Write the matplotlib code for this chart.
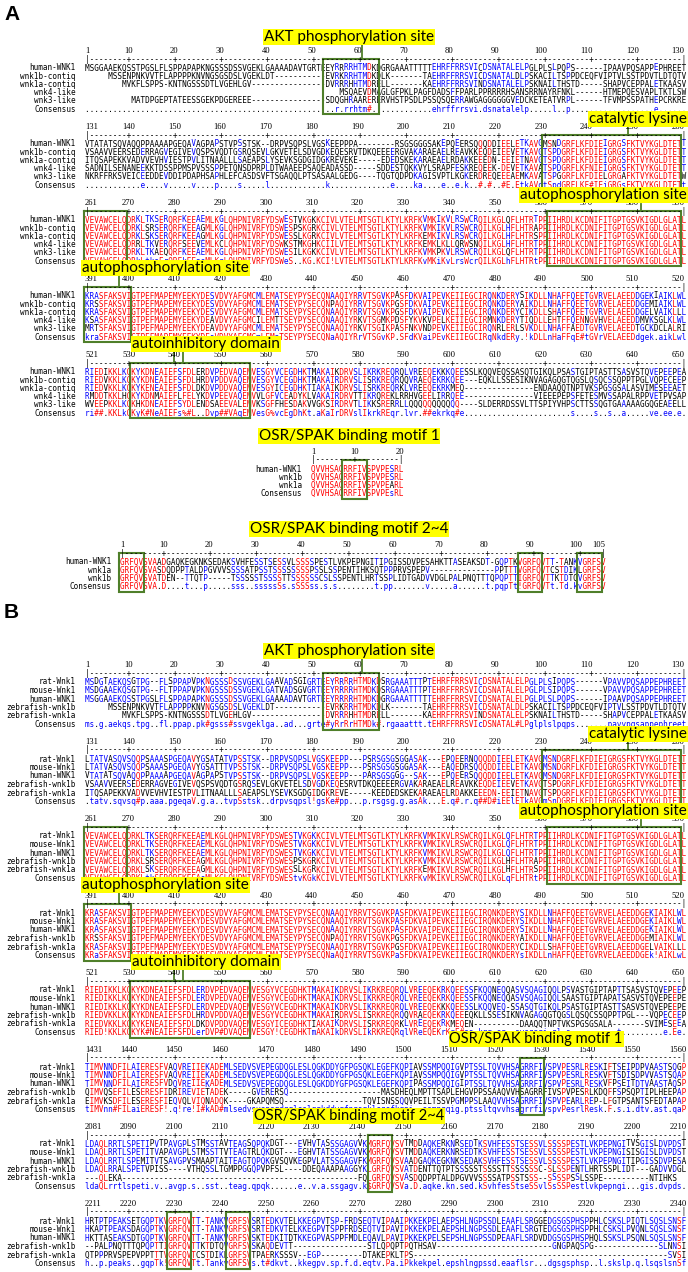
import matplotlib
matplotlib.use("agg")
import matplotlib.pyplot as plt
from collections import Counter

# ---------------- data: panel A (WNK family, human vs zebrafish contigs) ----------------
A_NAMES = ["human-WNK1", "wnk1b-contiq", "wnk1a-contiq", "wnk4-like", "wnk3-like"]
A_STARTS = [1, 131, 261, 391, 521]

A1 = [
    "MSGGAAEKQSSTPGSLFLSPPAPAPKNGSSSDSSVGEKLGAAAADAVTGRTEEYRRRRHTMDKDGRGAAATTTTTEHRFFRRSVICDSNATALELPGLPLSLPQPS------IPAAVPQSAPPEPHREET",
    "     MSSENPNKVVTFLAPPPPKNVNGSGSDSLVGEKLDT-----------EVRKRRHTMDKDLK-------TAEHRFFRRSVICDSNATALDLPSKACILTSPPDCEQFVIPTVLSSTPDVTLDTQTV",
    "        MVKFLSPPS-KNTNGSSSDTLVGEHLGV----------------DVRRRHHTMDRELL-------KAEHRFFRRSVINDSNATALELPSKNAILTHSTD-----SHAPVCEPPALETKAASV",
    "                                                       MSQAEVDMAGLGFPKLPAGFDADSFFPARLPPRRRRHSANSRRNAYRFNKL------HTMEPQESVAPLTKTLSW",
    "          MATDPGEPTATEESSGEKPDGEREEE----------------SDQGHRAARERERVHSTPSDLPSSQSQERRAWGAGGGGGGVEDCKETEATVRPL------TFVMPSSPATHEPCRKRE",
]
A2 = [
    "VTATATSQVAQQPPAAAAPGEQAVAGPAPSTVPSSTSK--DRPVSQPSLVGSKEEPPPA--------RSGSGGGSAKEPQEERSQQQDDIEELETKAVGMSNDGRFLKFDIEIGRGSFKTVYKGLDTETT",
    "VSAAVVEERSEDERRAGVEGIVEVQSPSVQDTGSRQSEVLGKVETELSDVGDKEQESRVTDKQEEEERGVAKARAEAELREAVKKEQDEIEEVETKAVGTSPDGRFLKFDIEIGRGSFKTVYKGLDTETT",
    "ITQSAPEKKVADVVEVHVIESTPVLITNAALLLSAEAPSLYSEVKSGDGIDGKREVEKE-----EDEDSKEKARAEAELRDAKKEEEDN-EEIETNAVGTSPDGRFLKFDIEIGRGSFKTVYKGLDTETT",
    "SADNILSENANEEKKTDSSPPMSPVSSSPPETQNSDPRPLDTWAAEEPSAQEADASSD-----SDDESTQKKVYLSRAPFESKREQEEK-DEVETKAVATSPDGRFLKFNIEIGRGSFKTVYKGLDTETT",
    "NKRFFRKSVEICEEDDEVDDIPDAPHSAPHLEFCASDSVFTSGAQQLPTSASAALGEDG----TQGTQDPDKAGISVPTLKGKERDREQEEEAEMKAVATSPGGRFLKFDIELGRGAFKTVYKGLDTETW",
]
HUMAN3 = "VEVAWCELQDRKLTKSERQRFKEEAEMLKGLQHPNIVRFYDSWESTVKGKKCIVLVTELMTSGTLKTYLKRFKVMKIKVLRSWCRQILKGLQFLHTRTPPIIHRDLKCDNIFITGPTGSVKIGDLGLATL"
WNK1B3 = "VEVAWCELQDRKLSRSERQRFKEEAGMLKGLQHPNIVRFYDSWESPSKGRKCIVLVTELMTSGTLKTYLKRFKVMKIKVLRSWCRQILKGLHFLHTRAPPIIHRDLKCDNIFITGPTGSVKIGDLGLATL"
WNK1A3 = "VEVAWCELQDRKLSKSERQRFKEEAGMLKGLQHPNIVRFYDSWESSLKGRKCIVLVTELMTSGTLKTYLKRFKEMKIKVLRSWCRQILKGLHFLHTRSPPIIHRDLKCDNIFITGPTGSVKIGDLGLATL"
A3 = [
    HUMAN3, WNK1B3, WNK1A3,
    "VEVAWCELQDRRLTKVERQRFSEEVEMLKCLQHPNIVRFYDSWKSTMKGHKCIILVTELMTSGTLKTYLKRFKEMKLKLLQRWSNQILKGLHFLHTRTPPIIHRDLKCDNIFITGPTGSVKIGDLGLATL",
    "VEVAWCELQDRKLTKAEQQRFKEEAEMLKGLQHPNIVRFYDSWESILKGKKCIVLVTELMTSGTLKTYLKRFKVMKPKVLRSWCRQILKGLQFLHTRTPPIIHRDLKCDNIFITGPTGSVKIGDLGLATL",
]
HUMAN4 = "KRASFAKSVIGTPEFMAPEMYEEKYDESVDVYAFGMCMLEMATSEYPYSECQNAAQIYRRVTSGVKPASFDKVAIPEVKEIIEGCIRQNKDERYSIKDLLNHAFFQEETGVRVELAEEDDGEKIAIKLWL"
WNK1B4 = "KRSSFAKSVIGTPEFMAPEMYEEKYDESVDVYAFGMCMLEMATSEYPYSECQNPAQIYRRVTSGVKPGSFDKVAIPEVKEIIEGCIRQNKDERYAIKDLLNHAFFQEETGVRVELAEEDDGEMIAIKLWL"
WNK1A4 = "KRASFAKSVIGTPEFMAPEMYEEKYDESVDVYAFGMCMLEMATSEYPYSECQNAAQIYRRVTSGVKPGSFDKVAIPEVKEIIEGCIRQNKDERYCIKDLLSHAFFQEETGVRVELAEEDDGELVAIKLLL"
A4 = [
    HUMAN4, WNK1B4, WNK1A4,
    "KSASFAKSVIGTPEFMAPEMYEEKYDEAVDVYAFGMCILEMTTSEYPYSECQNAAQIYRKVTSGMKPDSFYKVKVPELKEIIEGCIRMNKDERYTIQDLLEHTFFQENNGVHVELAEEDDMVKSGLKLWL",
    "MRTSFAKSVIGTPEFMAPEMYEEKYDEAVDVYAFGMCMLEMATSEYPYSECQNAAQIYRKVTSGIKPASFNKVNDPEVKEIIEGCIRQNRLERLSVKDLLNHAFFAEDTGVRVELAEEDTGCKDCLALRI",
]
A5 = [
    "RIEDIKKLKGKYKDNEAIEFSFDLERDVPEDVAQEMVESGYVCEGDHKTMAKAIKDRVSLIKRKREQRQLVREEQEKKKQEESSLKQQVEQSSASQTGIKQLPSASTGIPTASTTSASVSTQVEPEEPEA",
    "RIEDVKKLKGKYKDNEAIEFSFDLHRDVPDDVAQEMVESGYVCEGDHKTMAKAIRDRVSLISRKREQRQQVRAEQEKRKQEE---EQKLLSSESIKNVAGAGQGTQGSLQSQCSSQPPTPGLVQPECEEP",
    "RIEDVKKLKGKYKENEAIEFSFDLDKDVPDDVAQEMVESGYICEGDHKTIAKAIKDRVSLISRKREQRKLVREEQEKRKMEQ---------------ENDAAQQTNPTVKSPGSGSALASVIMESEEAET",
    "RMDDTKKLHGKYKDNMAIEFLFELYKDVPEEVAQEMVVLGFVCEADYKLVAKAIRDRVTTIKRQREKLRRHVGEELIRRQEE---------------VIEEEPEPSFETESMVSSAPALRPPVETPVSAP",
    "WVEEPKKLKGKHKDNEAIEFSYDLENDSAEEVALEMVKSGFFHESDAKVVGKSIRDRVTLIKKSRERRLLQQQQQQQQQQQ----SLDERRDSSVLTTSPIYVHPSCTTSSQGTGAAAAAGGQGEAEELL",
]
A_BLOCKS = [A1, A2, A3, A4, A5]
A_BOXES = [[(53, 64)], [(231, 260)], [(261, 269), (362, 390)], [(391, 400)], [(531, 556)]]

M1_NAMES = ["human-WNK1", "wnk1b", "wnk1a"]
M1 = ["QVVHSAGRRFIVSPVPESRL", "QVVHSAGRRFIVSPVPESRL", "QVVHSAGRRFIVSPVPEARL"]
M1_BOXES = [(8, 12)]

M2_NAMES = ["human-WNK1", "wnk1a", "wnk1b"]
M2 = [
    "GRFQVSVAADGAQKEGKNKSEDAKSVHFESSTSESSVLSSSSPESTLVKPEPNGITIPGISSDVPESAHKTTASEAKSDT-GQPTKVGRFQVTT-TANKVGRFSV",
    "GRFQVSVASDQDPPTALDPGVVVSSSSATPSSTSSSSSSSSPSSLSSPENTIHKSQTPPPRVSPEPV--------------PPTTTVGRFQVTCSTDIKLGRFSV",
    "GRFQVSVATDEN--TTQTP-----TSSSSSTSSSSTTSSSSSSCSLSSPENTLHRTSSPLIDTGADVVDGLPALPNQTTTQPQPTTIGRFQVTTKTDTQVGRFSV",
]
M2_BOXES = [(1, 5), (88, 92), (101, 105)]

# ---------------- data: panel B (rat / mouse / human / zebrafish) ----------------
B_NAMES = ["rat-Wnk1", "mouse-Wnk1", "human-WNK1", "zebrafish-wnk1b", "zebrafish-wnk1a"]
B_STARTS = [1, 131, 261, 391, 521, 1431, 2081, 2211]

B1 = [
    "MSDGTAEKQSGTPG--FLSPPAPVPKNGSSSDSSVGEKLGAAVADSGIGRTEEYRRRRHTMDKDSRGAAATTTPTEHRFFRRSVICDSNATALELPGLPLSIPQPS------VPAVVPQSAPPEPHREET",
    "MSDGAAEKQSGTPG--FLTPPAPVPKNGSSSDSSVGEKLGATVADSGVGRTEEYRRRRHTMDKDSRGAAATTTPTEHRFFRRSVICDSNATALELPGLPLSIPQPS------VPAVVPQSAPPEPHREET",
    A1[0], A1[1], A1[2],
]
B2 = [
    "LTATVASQVSQQPSAAASPGEQAVYGSATATVPSSTSK--DRPVSQPSLVGSKEEPP---PSRSGSGSGGASAK---EPQEERNQQQDDIEELETKAVGMSNDGRFLKFDIEIGRGSFKTVYKGLDTETT",
    "LTATVASQVSQQPSAAASPGEQAVYGSATTTVPSSTSK--DRPVSQPSLVGSKEEPP---PSRSGSGSGGASAK---EAQEDRSQQQDDIEELETKAVGMSNDGRFLKFDIEIGRGSFKTVYKGLDTETT",
    "VTATATSQVAQQPPAAAAPGEQAVAGPAPSTVPSSTSK--DRPVSQPSLVGSKEEPP---PARSGSGGG--SAK---EPQEERSQQQDDIEELETKAVGMSNDGRFLKFDIEIGRGSFKTVYKGLDTETT",
    A2[1],
    "ITQSAPEKKVADVVEVHVIESTPVLITNAALLLSAEAPSLYSEVKSGDGIDGKREVE-----KEEDEDSKEKARAEAELRDAKKEEEDN-EEIETNAVGTSPDGRFLKFDIEIGRGSFKTVYKGLDTETT",
]
B3 = [HUMAN3, HUMAN3, HUMAN3, WNK1B3, WNK1A3]
B4 = [HUMAN4, HUMAN4, HUMAN4, WNK1B4, WNK1A4]
B5 = [
    "RIEDIKKLKGKYKDNEAIEFSFDLERDVPEDVAQEMVESGYVCEGDHKTMAKAIKDRVSLIKRKREQRQLVREEQEKRKQEESSFKQQNEQQASVSQAGIQQLPSVASTGIPTAPTTSASVSTQVEPEEPE",
    "RIEDIKKLKGKYKDNEAIEFSFDLERDVPEDVAQEMVESGYVCEGDHKTMAKAIKDRVSLIKRKREQRQLVREEQEKRKQEESSFKQQNEQQASVSQAGIQQLSAASTGIPTAPATSASVSTQVEPEEPE",
    "RIEDIKKLKGKYKDNEAIEFSFDLERDVPEDVAQEMVESGYVCEGDHKTMAKAIKDRVSLIKRKREQRQLVREEQEKKKQEESSLKQQVEQ-SSASQTGIKQLPSASTGIPTASTTSASVSTQVEPEEPE",
    "RIEDVKKLKGKYKDNEAIEFSFDLHRDVPDDVAQEMVESGYVCEGDHKTMAKAIRDRVSLISRKREQRQQVRAEQEKRKQEEEQKLLSSESIKNVAGAGQGTQGSLQSQCSSQPPTPGL---VQPECEEPD",
    "RIEDVKKLKGKYKENEAIEFSFDLDKDVPDDVAQEMVESGYICEGDHKTIAKAIKDRVSLISRKREQRKLVREEQEKRKMEQEN----------DAAQQTNPTVKSPGSGSALA-------SVIMESEEAE",
]
B6 = [
    "TIMVNNDFILAIERESFVAQVREIIEKADEMLSEDVSVEPEGDQGLESLQGKDDYGFPGSQKLEGEFKQPIAVSSMPQQIGVPTSSLTQVVHSAGRRFIVSPVPESRLRESKIFTSEIPDPVAASTSQGP",
    "TIMVNNDFILAIERESFVAQVREIIEKADEMLSEDVSVEPEGDQGLESLQGKDDYGFPGSQKLEGEFKQPIAVSSMPQQIGVPTSSLTQVVHSAGRRFIVSPVPESRLRESKVFTSDISDPVVASTSQAP",
    "TIMVNNDFILAIERESFVDQVREIIEKADEMLSEDVSVEPEGDQGLESLQGKDDYGFPGSQKLEGEFKQPIPASSMPQQIGIPTSSLTQVVHSAGRRFIVSPVPESRLRESKVFPSEITDTVAASTAQSP",
    "QIMVQSEFILESERESFIDRIREVIETADEK-----GVERERSQ--------------------MASDHEQLMPTTSAPLEHGVPPSSAAQVVHSAGRRFIVSPVPESRLKDQFFSPSQPTIPLHEEPAPVP",
    "EIMVKSDFILESERESFIEQVQLVIQNADQK----GKAPQMSQ-----------------TQVISNSSQQVPEILTSSVPGMPPSLAAQVVHSAGRRFIVSPVPEARLREP-LFGTPSANTSFEDTAPAP",
]
B7 = [
    "LDAQLRRTLSPETIPVTPAVGPLSTMSSTAVTEAGSQPQKDGT---EVHVTASSSGAGVVKMGRFQVSVTMDDAQKERKNRSEDTKSVHFESSTSESSVLSSSSPESTLVKPEPNGITVSGISLDVPDST",
    "LDAQLRRTLSPETITVAPAVGPLSTMSSTTVTEAGTRLQKDGT---EGHVTATSSGAGVVKMGRFQVSVTMDDAQKERKNRSEDTKSVHFESSTSESSVLSSSSPESTLVKPEPNGISISGISLDVPDST",
    "LDAQLRRTLSPEMITVTSAVGPVSMAAPTAITEAGTQPQKGVSQVKEGPVLATSSGAGVFKMGRFQVSVAADGAQKEGKNKSEDAKSVHFESSTSESSVLSSSSPESTLVKPEPNGITIPGISSDVPESA",
    "LDAQLRRALSPETVPISS----VTHQSSLTGMPPGGQPVPFSL----DDEQAAAPAAGGYKLGRFQVSVATDENTTQTPTSSSSSTSSSSTTSSSSSSC-SLSSPENTLHRTSSPLIDT---GADVVDGL",
    "---QLEKA---------------------------------------------------FQLGRFQVSVASDQDPPTALDPGVVVSSSSATPSSTSSS--SSSSPSSLSSPE----------NTIHKS",
]
B8 = [
    "HRTPTPEAKSETGQPTKVGRFQVTT-TANKVGRFSVSRTEDKVTELKKEGPVTSP-FRDSEQTVIPAAIPKKEKPELAEPSHLNGPSSDLEAAFLSRGGEDGSGSPHSPPHLCSKSLPIQTLSQSLSNSF",
    "HKAPTPEAKSDAGQPTKVGRFQVTT-TANKVGRFSVSRTEDKVTELKKEGPVTSPPFRDSEQTVIPAVIPKKEKPELAEPSHLNGPSSDLEAAFLSRGTEDGSGSPHSPPHLCSKSLPVQNLSQSLSNSF",
    "HKTTASEAKSDTGQPTKVGRFQVTT-TANKVGRFSVSKTEDKITDTKKEGPVASPPFMDLEQAVLPAVIPKKEKPELSEPSHLNGPSSDPEAAFLSRDVDDGSGSPHSPHQLSSKSLPSQNLSQSLSNSF",
    "--PALPNQTTTQPQPTTIGRFQVTTKTDTQVGRFSVSKAQDEVTT----------------STLQPQPTPQTHSAV-------------------------GNGPAQSPG--------------SLNNSI",
    "QTPPPRVSPEPVPPTTTVGRFQVTCSTDIKLGRFSVTPAERKSSSV--EGP---------DTAKEPKLTPS-------------------------------------------------------SVSI",
]
B_BLOCKS = [B1, B2, B3, B4, B5, B6, B7, B8]
B_BOXES = [[(53, 64)], [(231, 260)], [(261, 269), (362, 390)], [(391, 400)], [(531, 556)],
           [(1526, 1530)], [(2143, 2147)], [(2229, 2233), (2242, 2246)]]

# ---------------- drawing setup ----------------
W, H = 688, 1272
fig = plt.figure(figsize=(W / 100, H / 100), dpi=100)
ax = fig.add_axes([0, 0, 1, 1])
ax.set_xlim(0, W)
ax.set_ylim(H, 0)
ax.axis("off")

CW = 4.58                      # width of one alignment column (px)
SEQ_FS = CW * 72 / 100 / 0.6021  # DejaVu Sans Mono advance = 0.602 em
MONO = "DejaVu Sans Mono"
NUM_FS = 6.2
RED, BLUE, BLACK = "#ff0000", "#0000ff", "#000000"
GREEN = "#4f7f2a"
YELLOW = "#ffff00"
GROUPS = [("!", "IV"), ("$", "LM"), ("%", "FY"), ("#", "NDQEBZ")]


def consensus(rows):
    n = len(rows)
    cons, kind = [], []
    for col in zip(*rows):
        letters = [c for c in col if c.isalpha()]
        if not letters:
            cons.append(" "); kind.append(None); continue
        best, cnt = Counter(letters).most_common(1)[0]
        if cnt >= 0.9 * n:
            cons.append(best); kind.append("hi"); continue
        sym = None
        for s, g in GROUPS:
            if sum(c in g for c in letters) >= 0.9 * n:
                sym = (s, g); break
        if sym:
            cons.append(sym[0]); kind.append(sym[1])
        elif cnt >= 0.5 * n:
            cons.append(best.lower()); kind.append("lo")
        else:
            cons.append("."); kind.append(None)
    return "".join(cons), kind


def colour_of(c, j, cons, kind):
    k = kind[j]
    if k == "hi" and c == cons[j]:
        return RED
    if k not in (None, "hi", "lo") and c in k:
        return RED
    if k == "lo" and c == cons[j].upper():
        return BLUE
    return BLACK


def mono_row(s, x, y, colours):
    # one text per colour, other letters blanked so the monospace grid stays aligned
    for col in (BLACK, BLUE, RED):
        t = "".join(ch if colours[i] == col else " " for i, ch in enumerate(s))
        if t.strip():
            ax.text(x, y, t, color=col, fontsize=SEQ_FS, family=MONO,
                    ha="left", va="center", zorder=1)


def draw_block(rows, names, start, x0, ry, dy, boxes=(), length=130):
    rows = [(r + " " * length)[:length] for r in rows]
    cons, kind = consensus(rows)
    # ruler numbers
    ax.text(x0, ry, str(start), fontsize=NUM_FS, family="Liberation Serif", ha="left", va="center")
    last = start + length - 1
    for j in range(1, length):
        a = start + j
        if a % 10 == 0 and j >= 4:
            ax.text(x0 + (j + 0.5) * CW, ry, str(a), fontsize=NUM_FS, family="Liberation Serif",
                    ha="center", va="center")
    if last % 10 != 0:
        ax.text(x0 + (length - 0.5) * CW, ry, str(last), fontsize=NUM_FS, family="Liberation Serif",
                ha="center", va="center")
    ruler = "".join("|" if j in (0, length - 1) else ("+" if (start + j) % 10 == 0 else "-")
                    for j in range(length))
    ax.text(x0, ry + 8, ruler, fontsize=SEQ_FS, family=MONO, ha="left", va="center")
    # sequences
    for i, (r, nm) in enumerate(zip(rows + [cons], names + ["Consensus"])):
        y = ry + 17 + i * dy
        ax.text(x0 - 9, y, nm, fontsize=SEQ_FS, family=MONO, ha="right", va="center")
        if i < len(rows):
            cols = [colour_of(c, j, cons, kind) for j, c in enumerate(r)]
        else:
            cols = [RED if (k is not None and k != "lo") else (BLUE if k == "lo" else BLACK)
                    for k in kind]
        mono_row(r, x0, y, cols)
    # green boxes
    top, bot = ry + 7.5, ry + 17 + len(rows) * dy + 5
    for a, b in boxes:
        xa = x0 + (a - start) * CW - 0.6
        xb = x0 + (b - start + 1) * CW + 0.6
        ax.plot([xa, xb, xb, xa, xa], [top, top, bot, bot, top], color=GREEN, lw=1.5,
                zorder=2, solid_joinstyle="miter")


def label(text, x, y, ha="center", fs=11):
    ax.text(x, y, text, fontsize=fs, family="Lato", ha=ha, va="center", zorder=4,
            bbox=dict(boxstyle="square,pad=0.06", fc=YELLOW, ec="none"))


def tick(res, start, x0, y_from, y_to):
    x = x0 + (res - start + 0.5) * CW
    ax.plot([x, x], [y_from, y_to], color=GREEN, lw=1.3, zorder=2)


X0 = 85
# ---------------- panel A ----------------
ax.text(4, 15, "A", fontsize=15, fontweight="bold", family="Liberation Sans", va="center")
A_R = [51, 127, 203, 279, 355]
DY_A = 8.2
for k, rows in enumerate(A_BLOCKS):
    draw_block(rows, A_NAMES, A_STARTS[k], X0, A_R[k], DY_A, A_BOXES[k])

label("AKT phosphorylation site", 349, A_R[0] - 14)
tick(61, 1, X0, A_R[0] - 6, A_R[0] + 7.5)
label("catalytic lysine", 687, A_R[1] - 8, ha="right")
tick(249, 131, X0, A_R[1] + 1, A_R[1] + 7.5)
label("autophosphorylation site", 687, A_R[2] - 8, ha="right")
tick(382, 261, X0, A_R[2] + 1, A_R[2] + 7.5)
label("autophosphorylation site", 82, A_R[3] - 11, ha="left")
tick(398, 391, X0, A_R[3] - 3, A_R[3] + 7.5)
label("autoinhibitory domain", 132, A_R[4] - 11, ha="left")
tick(540, 521, X0, A_R[4] - 3, A_R[4] + 7.5)
tick(542, 521, X0, A_R[4] - 3, A_R[4] + 7.5)

M1_R = 452
label("OSR/SPAK binding motif 1", 349, M1_R - 16)
draw_block(M1, M1_NAMES, 1, 311, M1_R, DY_A, M1_BOXES, length=20)
M2_R = 545
label("OSR/SPAK binding motif 2~4", 349, M2_R - 16)
draw_block(M2, M2_NAMES, 1, 120, M2_R, DY_A, M2_BOXES, length=105)

# ---------------- panel B ----------------
ax.text(4, 613, "B", fontsize=15, fontweight="bold", family="Liberation Sans", va="center")
B_R = [665 + 77 * k for k in range(8)]
DY_B = 8.5
for k, rows in enumerate(B_BLOCKS):
    draw_block(rows, B_NAMES, B_STARTS[k], X0, B_R[k], DY_B, B_BOXES[k])

label("AKT phosphorylation site", 349, B_R[0] - 14)
tick(61, 1, X0, B_R[0] - 6, B_R[0] + 7.5)
label("catalytic lysine", 687, B_R[1] - 8, ha="right")
tick(249, 131, X0, B_R[1] + 1, B_R[1] + 7.5)
label("autophosphorylation site", 687, B_R[2] - 8, ha="right")
tick(382, 261, X0, B_R[2] + 1, B_R[2] + 7.5)
label("autophosphorylation site", 82, B_R[3] - 11, ha="left")
tick(398, 391, X0, B_R[3] - 3, B_R[3] + 7.5)
label("autoinhibitory domain", 132, B_R[4] - 11, ha="left")
tick(540, 521, X0, B_R[4] - 3, B_R[4] + 7.5)
tick(542, 521, X0, B_R[4] - 3, B_R[4] + 7.5)
label("OSR/SPAK binding motif 1", 536, B_R[5] - 11, fs=10.5)
label("OSR/SPAK binding motif 2~4", 349, B_R[6] - 11, fs=10.5)

fig.savefig("out.png", dpi=100, facecolor="white")
plt.close(fig)
